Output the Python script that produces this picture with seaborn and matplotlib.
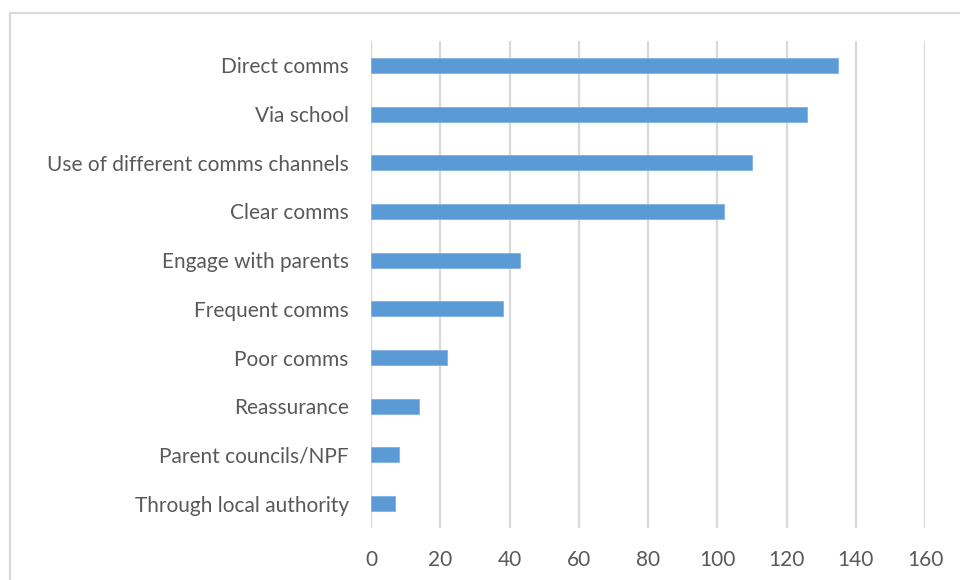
import matplotlib
matplotlib.use("Agg")
import matplotlib.pyplot as plt
import matplotlib.patches as mpatches
import seaborn as sns
import pandas as pd

categories = [
    "Direct comms",
    "Via school",
    "Use of different comms channels",
    "Clear comms",
    "Engage with parents",
    "Frequent comms",
    "Poor comms",
    "Reassurance",
    "Parent councils/NPF",
    "Through local authority",
]
counts = [135, 126, 110, 102, 43, 38, 22, 14, 8, 7]
x_ticks = [0, 20, 40, 60, 80, 100, 120, 140, 160]

df = pd.DataFrame({"category": categories, "count": counts})

sns.set_theme(style="white")
plt.rcParams["font.family"] = ["Lato", "DejaVu Sans"]

fig = plt.figure(figsize=(9.6, 5.8), dpi=100)
ax = fig.add_axes([371 / 960, 1 - 528 / 580, (925 - 371) / 960, (528 - 41) / 580])

sns.barplot(data=df, y="category", x="count", orient="h", color="#5B9BD5",
            width=0.31, saturation=1, edgecolor="#7fb2e0", linewidth=0.6, ax=ax, zorder=3)

ax.set_xlim(0, 160)
ax.set_xticks(x_ticks)
ax.set_xlabel("")
ax.set_ylabel("")
ax.grid(axis="x", color="#d9d9d9", linewidth=1.6, zorder=0)
ax.grid(axis="y", visible=False)
for s in ax.spines.values():
    s.set_visible(False)
ax.axvline(0, color="#d9d9d9", linewidth=1.6, zorder=1)
ax.tick_params(axis="both", length=0, labelsize=15, labelcolor="#595959")
ax.tick_params(axis="y", pad=16)
ax.tick_params(axis="x", pad=16)

# outer chart border
fig.patches.append(mpatches.Rectangle((10 / 960, -0.1), 1.2, 1 - 13 / 580 + 0.1,
                                      transform=fig.transFigure, fill=False,
                                      edgecolor="#d9d9d9", linewidth=1.6))

fig.savefig("out.png", dpi=100)
